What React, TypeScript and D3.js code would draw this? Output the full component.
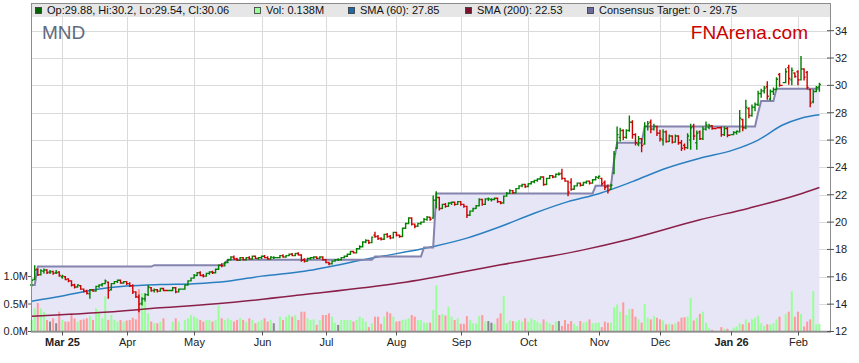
import React, { useRef, useEffect } from 'react';
import * as d3 from 'd3';

// each bar: open, high, low, close, volume (millions)
type Bar = [number, number, number, number, number];

const feb25: Bar[] = [
  [15.40, 15.90, 15.30, 15.75, 0.21], [15.80, 16.85, 15.75, 16.50, 0.42], [16.55, 16.60, 16.05, 16.15, 0.52],
  [16.15, 16.55, 16.10, 16.45, 0.42], [16.40, 16.60, 16.25, 16.50, 0.36], [16.50, 16.55, 16.20, 16.30, 0.21],
  [16.35, 16.50, 16.20, 16.35, 0.18], [16.40, 16.45, 16.15, 16.25, 0.24], [16.30, 16.50, 16.20, 16.30, 0.15],
  [16.35, 16.40, 16.00, 16.10, 0.36],
];
const mar25: Bar[] = [
  [16.00, 16.15, 15.85, 16.05, 0.21], [16.00, 16.05, 15.75, 15.80, 0.18], [15.85, 15.90, 15.60, 15.70, 0.18],
  [15.70, 15.75, 15.30, 15.40, 0.33], [15.40, 15.50, 15.15, 15.25, 0.24], [15.25, 15.45, 15.20, 15.40, 0.18],
  [15.35, 15.40, 15.05, 15.10, 0.21], [15.10, 15.15, 14.85, 14.95, 0.22], [14.95, 15.05, 14.70, 14.80, 0.24],
  [14.75, 15.10, 14.40, 15.05, 0.28], [15.05, 15.10, 14.90, 14.95, 0.21], [14.95, 15.35, 14.90, 15.30, 0.42],
  [15.30, 15.45, 15.20, 15.40, 0.36], [15.40, 15.55, 15.30, 15.50, 0.24], [15.50, 15.80, 15.45, 15.70, 0.64],
  [15.60, 15.65, 14.40, 15.00, 0.21], [15.05, 15.55, 15.00, 15.50, 0.30], [15.50, 15.70, 15.45, 15.65, 0.21],
  [15.65, 15.80, 15.55, 15.75, 0.18], [15.75, 15.80, 15.50, 15.55, 0.21], [15.55, 15.70, 15.50, 15.65, 0.18],
];
const apr25: Bar[] = [
  [15.65, 15.70, 15.40, 15.50, 0.20], [15.50, 15.60, 15.25, 15.35, 0.21], [15.35, 15.45, 14.75, 14.90, 0.25],
  [14.90, 14.95, 14.45, 14.55, 0.22], [14.50, 14.70, 13.40, 14.00, 0.77], [14.05, 14.50, 13.90, 14.40, 0.70],
  [14.40, 14.80, 14.20, 14.70, 0.55], [14.70, 15.40, 14.60, 15.25, 0.33], [15.20, 15.25, 14.90, 15.00, 0.18],
  [15.00, 15.15, 14.85, 15.05, 0.15], [15.05, 15.10, 14.85, 14.95, 0.15], [14.95, 15.20, 14.90, 15.15, 0.18],
  [15.15, 15.20, 14.95, 15.00, 0.24], [15.00, 15.25, 14.95, 15.20, 0.18], [15.20, 15.25, 14.80, 14.90, 0.24],
  [14.90, 15.15, 14.85, 15.10, 0.18], [15.10, 15.45, 15.05, 15.40, 0.21], [15.40, 15.75, 15.35, 15.70, 0.24],
  [15.70, 15.95, 15.65, 15.90, 0.30],
];
const may25: Bar[] = [
  [15.90, 16.20, 15.85, 16.10, 0.27], [16.10, 16.35, 16.05, 16.30, 0.24], [16.30, 16.40, 16.05, 16.10, 0.21],
  [16.10, 16.20, 15.95, 16.05, 0.18], [16.05, 16.30, 16.00, 16.25, 0.21], [16.25, 16.40, 16.15, 16.35, 0.21],
  [16.35, 16.45, 16.20, 16.30, 0.18], [16.30, 16.60, 16.25, 16.55, 0.21], [16.55, 16.90, 16.50, 16.85, 0.47],
  [16.85, 17.00, 16.70, 16.80, 0.24], [16.80, 17.10, 16.75, 17.05, 0.21], [17.05, 17.30, 17.00, 17.25, 0.24],
  [17.25, 17.50, 17.20, 17.45, 0.21], [17.45, 17.55, 17.25, 17.30, 0.18], [17.30, 17.40, 17.15, 17.20, 0.21],
  [17.20, 17.45, 17.15, 17.40, 0.24], [17.40, 17.45, 17.20, 17.25, 0.21], [17.25, 17.45, 17.20, 17.40, 0.18],
  [17.40, 17.50, 17.25, 17.30, 0.24], [17.30, 17.55, 17.25, 17.50, 0.21], [17.50, 17.55, 17.30, 17.35, 0.15],
  [17.35, 17.45, 17.25, 17.40, 0.18],
];
const jun25: Bar[] = [
  [17.40, 17.55, 17.30, 17.50, 0.21], [17.50, 17.60, 17.35, 17.40, 0.24], [17.40, 17.50, 17.25, 17.30, 0.18],
  [17.30, 17.50, 17.25, 17.45, 0.21], [17.40, 17.50, 17.30, 17.40, 0.15], [17.40, 17.60, 17.35, 17.55, 0.27],
  [17.55, 17.65, 17.40, 17.45, 0.21], [17.45, 17.60, 17.40, 17.55, 0.27], [17.55, 17.70, 17.50, 17.65, 0.30],
  [17.65, 17.75, 17.50, 17.55, 0.27], [17.55, 17.75, 17.50, 17.70, 0.30], [17.70, 17.80, 17.55, 17.60, 0.21],
  [17.60, 17.65, 17.10, 17.20, 0.36], [17.25, 17.35, 17.05, 17.15, 0.36], [17.15, 17.40, 17.10, 17.35, 0.24],
  [17.35, 17.45, 17.25, 17.40, 0.21], [17.40, 17.50, 17.30, 17.45, 0.22], [17.45, 17.50, 17.30, 17.35, 0.12],
  [17.35, 17.50, 17.30, 17.45, 0.21], [17.45, 17.50, 17.20, 17.25, 0.30],
];
const jul25: Bar[] = [
  [17.25, 17.30, 17.00, 17.05, 0.30], [17.05, 17.10, 16.85, 16.95, 0.33], [16.95, 17.20, 16.90, 17.15, 0.27],
  [17.15, 17.30, 17.10, 17.25, 0.16], [17.25, 17.35, 17.15, 17.25, 0.12], [17.25, 17.45, 17.20, 17.40, 0.21],
  [17.40, 17.55, 17.35, 17.50, 0.21], [17.50, 17.70, 17.45, 17.65, 0.21], [17.65, 17.90, 17.60, 17.85, 0.21],
  [17.85, 17.90, 17.70, 17.75, 0.18], [17.75, 18.10, 17.70, 18.05, 0.21], [18.05, 18.30, 18.00, 18.20, 0.27],
  [18.20, 18.60, 18.15, 18.55, 0.24], [18.55, 18.75, 18.45, 18.65, 0.18], [18.65, 18.70, 18.40, 18.50, 0.08],
  [18.50, 18.95, 18.45, 18.90, 0.15], [19.05, 19.30, 18.85, 18.95, 0.27], [18.95, 19.05, 18.70, 18.80, 0.27],
  [18.80, 18.90, 18.65, 18.75, 0.14], [18.75, 19.15, 18.70, 19.10, 0.27], [19.10, 19.20, 18.85, 18.95, 0.36],
  [18.95, 19.05, 18.75, 18.85, 0.33], [18.85, 19.30, 18.80, 19.25, 0.27],
];
const aug25: Bar[] = [
  [19.25, 19.30, 18.95, 19.05, 0.18], [19.05, 19.10, 18.85, 18.95, 0.19], [18.95, 19.60, 18.90, 19.55, 0.21],
  [19.55, 19.95, 19.50, 19.90, 0.22], [19.90, 20.35, 19.85, 20.30, 0.24], [20.30, 20.35, 19.75, 19.85, 0.30],
  [19.85, 19.90, 19.55, 19.70, 0.27], [19.70, 19.95, 19.65, 19.90, 0.21], [19.90, 20.05, 19.80, 20.00, 0.21],
  [20.00, 20.30, 19.95, 20.20, 0.16], [20.20, 20.45, 20.10, 20.35, 0.16], [20.35, 20.40, 20.10, 20.20, 0.16],
  [20.30, 21.95, 20.25, 21.60, 0.39], [21.60, 22.25, 21.00, 21.80, 0.84], [21.80, 21.85, 20.85, 21.00, 0.30],
  [21.00, 21.35, 20.95, 21.30, 0.32], [21.30, 21.40, 21.05, 21.15, 0.29], [21.15, 21.45, 21.10, 21.40, 0.45],
  [21.40, 21.50, 21.25, 21.45, 0.27], [21.45, 21.50, 21.20, 21.30, 0.21], [21.30, 21.55, 21.25, 21.50, 0.24],
];
const sep25: Bar[] = [
  [21.50, 21.55, 21.20, 21.30, 0.14], [21.30, 21.35, 21.05, 21.15, 0.14], [21.15, 21.20, 20.30, 20.50, 0.28],
  [20.50, 20.85, 20.45, 20.80, 0.21], [20.80, 21.05, 20.75, 21.00, 0.15], [21.00, 21.25, 20.95, 21.20, 0.15],
  [21.20, 21.75, 21.15, 21.65, 0.28], [21.65, 21.70, 21.20, 21.30, 0.30], [21.30, 21.75, 21.25, 21.70, 0.18],
  [21.70, 21.80, 21.55, 21.70, 0.19], [21.65, 21.75, 21.50, 21.65, 0.16], [21.65, 21.80, 21.60, 21.75, 0.14],
  [21.75, 21.80, 21.40, 21.50, 0.24], [21.50, 21.55, 21.30, 21.40, 0.33], [21.40, 21.95, 21.35, 21.90, 0.65],
  [21.90, 22.20, 21.85, 22.10, 0.15], [22.10, 22.40, 22.05, 22.30, 0.20], [22.30, 22.35, 22.05, 22.15, 0.19],
  [22.15, 22.50, 22.10, 22.45, 0.18], [22.45, 22.70, 22.40, 22.65, 0.21], [22.65, 22.80, 22.55, 22.75, 0.18],
  [22.75, 22.80, 22.50, 22.60, 0.24],
];
const oct25: Bar[] = [
  [22.60, 22.85, 22.55, 22.80, 0.18], [22.80, 23.00, 22.75, 22.95, 0.24], [22.95, 23.10, 22.85, 23.05, 0.21],
  [23.05, 23.20, 22.95, 23.15, 0.18], [23.15, 23.35, 23.10, 23.30, 0.15], [23.30, 23.35, 22.65, 22.75, 0.22],
  [22.75, 23.25, 22.70, 23.20, 0.18], [23.20, 23.45, 23.15, 23.40, 0.15], [23.40, 23.45, 23.20, 23.30, 0.12],
  [23.30, 23.55, 23.25, 23.50, 0.18], [23.50, 23.65, 23.40, 23.50, 0.19], [23.55, 23.90, 23.10, 23.20, 0.10],
  [23.20, 23.25, 22.95, 23.00, 0.21], [23.00, 23.05, 21.90, 22.20, 0.14], [22.90, 23.20, 22.30, 22.40, 0.19],
  [22.40, 22.70, 22.35, 22.65, 0.14], [22.65, 22.90, 22.60, 22.85, 0.10], [22.85, 22.90, 22.60, 22.70, 0.19],
  [22.70, 22.95, 22.65, 22.90, 0.16], [22.90, 23.05, 22.80, 23.00, 0.18], [23.00, 23.05, 22.75, 22.85, 0.22],
  [22.85, 23.15, 22.80, 23.10, 0.15], [23.10, 23.35, 23.05, 23.30, 0.16],
];
const nov25: Bar[] = [
  [23.25, 23.40, 23.15, 23.35, 0.16], [23.20, 23.25, 22.65, 22.80, 0.08], [22.90, 23.05, 22.35, 22.55, 0.18],
  [22.60, 22.75, 22.10, 22.30, 0.16], [22.40, 22.80, 22.35, 22.70, 0.16], [23.60, 25.20, 23.50, 25.00, 0.44],
  [25.40, 27.00, 25.35, 26.40, 0.49], [26.20, 26.90, 25.90, 26.70, 0.36], [26.70, 26.80, 26.00, 26.20, 0.53],
  [26.20, 26.80, 26.10, 26.70, 0.30], [26.70, 27.80, 26.60, 27.30, 0.41], [27.30, 27.45, 26.10, 26.40, 0.41],
  [26.40, 26.50, 25.60, 25.80, 0.27], [25.70, 26.30, 25.55, 26.10, 0.22], [26.10, 26.15, 25.10, 25.60, 0.16],
  [25.70, 27.30, 25.65, 27.00, 0.50], [27.00, 27.40, 26.70, 27.20, 0.25], [27.30, 27.50, 26.50, 26.80, 0.22],
  [26.80, 27.20, 26.70, 27.00, 0.28], [27.00, 27.05, 26.30, 26.50, 0.25],
];
const dec25: Bar[] = [
  [26.50, 26.75, 25.90, 26.10, 0.22], [26.00, 26.80, 25.60, 26.60, 0.20], [26.60, 26.70, 25.80, 25.90, 0.13],
  [25.90, 26.40, 25.85, 26.30, 0.14], [26.30, 26.35, 25.75, 25.85, 0.13], [25.85, 26.40, 25.80, 26.30, 0.15],
  [26.30, 26.35, 25.65, 25.80, 0.18], [25.80, 26.00, 25.20, 25.40, 0.25], [25.60, 25.75, 25.25, 25.45, 0.26],
  [25.45, 26.50, 25.35, 26.30, 0.27], [26.00, 27.20, 25.30, 26.90, 0.61], [27.00, 27.20, 26.00, 26.30, 0.20],
  [25.80, 26.70, 25.30, 26.50, 0.25], [26.60, 26.70, 26.00, 26.10, 0.32], [26.10, 27.00, 26.00, 26.80, 0.36],
  [26.80, 27.35, 26.70, 27.10, 0.16], [26.95, 27.20, 26.80, 27.05, 0.06], [27.05, 27.10, 26.75, 26.85, 0.03],
  [26.90, 27.00, 26.25, 26.40, 0.08], [26.40, 27.00, 26.30, 26.85, 0.05], [26.85, 26.95, 26.20, 26.35, 0.05],
];
const jan26: Bar[] = [
  [26.40, 26.65, 26.35, 26.55, 0.07], [26.55, 26.70, 26.40, 26.65, 0.09], [26.60, 28.20, 26.55, 27.60, 0.15],
  [27.50, 27.55, 26.65, 26.90, 0.13], [26.90, 28.95, 26.80, 28.40, 0.22], [28.30, 28.40, 27.60, 27.80, 0.16],
  [27.80, 28.60, 27.70, 28.40, 0.22], [28.40, 28.75, 28.10, 28.60, 0.25], [28.60, 29.60, 28.50, 29.40, 0.29],
  [29.40, 29.75, 29.10, 29.60, 0.15], [29.60, 29.95, 29.40, 29.80, 0.10], [29.90, 30.30, 28.95, 29.20, 0.13],
  [29.00, 29.70, 28.90, 29.55, 0.13], [29.55, 29.85, 29.30, 29.70, 0.15], [29.70, 30.60, 29.65, 30.45, 0.22],
  [30.80, 30.90, 29.90, 30.00, 0.27], [30.20, 31.25, 30.15, 31.00, 0.32], [31.30, 31.50, 30.05, 30.50, 0.36],
  [30.40, 31.30, 30.00, 31.10, 0.73], [30.90, 30.95, 30.55, 30.65, 0.27],
];
const feb26: Bar[] = [
  [31.00, 31.10, 30.00, 30.40, 0.36], [30.40, 32.15, 30.35, 31.20, 0.32], [31.20, 31.25, 30.35, 30.60, 0.09],
  [30.95, 31.05, 29.70, 29.85, 0.18], [29.70, 29.75, 28.40, 28.70, 0.22], [28.80, 29.70, 28.70, 29.55, 0.73],
  [29.55, 29.95, 29.50, 29.85, 0.13], [29.88, 30.20, 29.54, 30.06, 0.138],
];
const months = [feb25, mar25, apr25, may25, jun25, jul25, aug25, sep25, oct25, nov25, dec25, jan26, feb26];

// ASX closed days (kept as empty slots on the axis)
const holidays = ['2025-04-18', '2025-04-21', '2025-04-25', '2025-06-09', '2025-12-25', '2025-12-26', '2026-01-01', '2026-01-26'];

const monthLabels = ['Mar 25', 'Apr', 'May', 'Jun', 'Jul', 'Aug', 'Sep', 'Oct', 'Nov', 'Dec', 'Jan 26', 'Feb'];
const priceTicks = [12, 14, 16, 18, 20, 22, 24, 26, 28, 30, 32, 34];
const volumeTicks = [0, 0.5, 1.0];

const consensusDates = ['2025-02-17', '2025-02-19', '2025-04-14', '2025-05-15', '2025-05-16', '2025-07-23', '2025-08-14',
  '2025-08-20', '2025-10-31', '2025-11-10', '2025-11-11', '2025-11-24', '2026-01-14', '2026-01-15', '2026-01-22'];
const consensusValues = [15.4, 16.75, 16.85, 17.0, 17.25, 17.48, 18.15, 22.1, 22.65, 24.5, 25.8, 27.0, 28.0, 28.85, 29.75];

const sma60Dates = ['2025-02-17', '2025-03-03', '2025-03-18', '2025-04-01', '2025-04-16', '2025-05-01', '2025-05-16',
  '2025-06-02', '2025-06-20', '2025-07-22', '2025-08-19', '2025-09-03', '2025-09-18', '2025-10-03', '2025-10-20',
  '2025-11-03', '2025-11-18', '2025-12-03', '2025-12-18', '2026-01-02', '2026-01-14', '2026-01-26', '2026-02-03', '2026-02-11'];
const sma60Values = [14.22, 14.6, 15.07, 15.32, 15.44, 15.5, 15.68, 16.05, 16.41, 17.37, 18.21, 18.83, 19.68, 20.65, 21.5,
  22.08, 22.96, 23.94, 24.67, 25.28, 26.0, 27.1, 27.6, 27.85];

const sma200Dates = ['2025-02-17', '2025-03-18', '2025-04-16', '2025-05-16', '2025-06-20', '2025-08-04', '2025-09-18',
  '2025-10-27', '2025-11-17', '2025-12-18', '2026-01-09', '2026-02-02', '2026-02-11'];
const sma200Values = [13.12, 13.37, 13.73, 14.1, 14.7, 15.54, 16.88, 17.97, 18.75, 20.17, 21.02, 22.0, 22.53];

const FONT = '"Liberation Sans", Arial, sans-serif';

const App = () => {
  const svgRef = useRef<SVGSVGElement>(null);

  useEffect(() => {
    const left = 31, right = 831, top = 3, legendBottom = 17, bottom = 331.5;
    const svg = d3.select(svgRef.current);
    svg.selectAll('*').remove();

    const fmt = d3.timeFormat('%Y-%m-%d');
    const slotDates = d3.timeDay.range(new Date(2025, 1, 17), new Date(2026, 1, 12))
      .filter(d => d.getDay() > 0 && d.getDay() < 6);
    const slotOf = new Map(slotDates.map((d, i) => [fmt(d), i] as [string, number]));
    const tradingSlots = slotDates.map((_, i) => i).filter(i => !holidays.includes(fmt(slotDates[i])));
    const bars = months.flat().map((b, i) => ({ slot: tradingSlots[i], o: b[0], h: b[1], l: b[2], c: b[3], v: b[4] }));
    const tickSlots = slotDates.map((_, i) => i)
      .filter(i => i > 0 && slotDates[i].getMonth() !== slotDates[i - 1].getMonth());

    const x = d3.scaleLinear().domain([0, slotDates.length - 1]).range([31.65, 819.4]);
    const y = d3.scaleLinear().domain([12, 35]).range([bottom, legendBottom]);
    const yVol = d3.scaleLinear().domain([0, 1]).range([bottom, 276.5]);

    // grid
    const grid = svg.append('g').attr('stroke', '#dadada').attr('stroke-width', 1);
    priceTicks.filter(t => t > 12).forEach(t => {
      grid.append('line').attr('x1', left).attr('x2', right).attr('y1', Math.round(y(t)) + 0.5).attr('y2', Math.round(y(t)) + 0.5);
    });
    tickSlots.forEach(s => {
      grid.append('line').attr('x1', Math.round(x(s)) + 0.5).attr('x2', Math.round(x(s)) + 0.5).attr('y1', legendBottom).attr('y2', bottom);
    });

    // consensus target steps
    const cPts: [number, number][] = [];
    consensusDates.forEach((d, k) => {
      const s = slotOf.get(d) as number;
      if (k > 0) cPts.push([s - 1, consensusValues[k - 1]]);
      cPts.push([s, consensusValues[k]]);
    });
    cPts.push([bars[bars.length - 1].slot, consensusValues[consensusValues.length - 1]]);

    svg.append('path')
      .attr('d', d3.area<[number, number]>().x(d => Math.max(left, x(d[0]) - (d[0] === 0 ? 1 : 0))).y0(bottom).y1(d => y(d[1]))(cPts) as string)
      .attr('fill', '#e6e6f6');

    // volume
    svg.append('g').selectAll('rect').data(bars).enter().append('rect')
      .attr('x', d => x(d.slot) - 1)
      .attr('width', 2)
      .attr('y', d => yVol(d.v))
      .attr('height', d => bottom - yVol(d.v))
      .attr('fill', d => (d.c > d.o ? '#99ff99' : d.c < d.o ? '#ff9a9a' : '#888888'));

    // moving averages
    const smaLine = d3.line<[number, number]>().x(d => x(d[0])).y(d => y(d[1])).curve(d3.curveMonotoneX);
    const sma60 = sma60Dates.map((d, i) => [slotOf.get(d) as number, sma60Values[i]] as [number, number]);
    const sma200 = sma200Dates.map((d, i) => [slotOf.get(d) as number, sma200Values[i]] as [number, number]);
    svg.append('path').attr('d', smaLine(sma200) as string).attr('fill', 'none').attr('stroke', '#8a2048').attr('stroke-width', 1.5);
    svg.append('path').attr('d', smaLine(sma60) as string).attr('fill', 'none').attr('stroke', '#2a7fc0').attr('stroke-width', 1.5);

    svg.append('path')
      .attr('d', d3.line<[number, number]>().x(d => x(d[0])).y(d => y(d[1]))(cPts) as string)
      .attr('fill', 'none').attr('stroke', '#8484ae').attr('stroke-width', 2);

    // OHLC bars
    const ohlc = svg.append('g').attr('stroke-width', 1.4).attr('fill', 'none');
    bars.forEach((b, i) => {
      const xc = x(b.slot);
      const xp = i > 0 ? x(bars[i - 1].slot) : xc - 3.065;
      const xn = i < bars.length - 1 ? x(bars[i + 1].slot) : xc + 3.065;
      const col = b.c >= b.o ? '#008000' : '#cc0000';
      ohlc.append('path')
        .attr('stroke', col)
        .attr('d', `M${xc},${y(b.h)}V${y(b.l)}M${xc - (xc - xp) / 2},${y(b.o)}H${xc}M${xc},${y(b.c)}H${xc + (xn - xc) / 2}`);
    });

    // legend bar + frame
    svg.append('rect').attr('x', left).attr('y', top).attr('width', right - left).attr('height', legendBottom - top).attr('fill', '#e6e6e6');
    svg.append('rect').attr('x', left + 0.5).attr('y', top + 0.5).attr('width', right - left - 1).attr('height', bottom - top)
      .attr('fill', 'none').attr('stroke', '#8c8c8c').attr('stroke-width', 1);
    svg.append('line').attr('x1', left).attr('x2', right).attr('y1', bottom).attr('y2', bottom).attr('stroke', '#8c8c8c').attr('stroke-width', 1.5);

    const last = bars[bars.length - 1];
    const legend = [
      { x: 35, color: '#006400', text: `Op:${last.o}, Hi:${last.h}, Lo:${last.l}, Cl:${last.c}` },
      { x: 254, color: '#99ff99', text: `Vol: ${last.v}M` },
      { x: 348, color: '#1f6aa5', text: `SMA (60): ${sma60Values[sma60Values.length - 1]}` },
      { x: 465, color: '#7b1230', text: `SMA (200): ${sma200Values[sma200Values.length - 1]}` },
      { x: 587, color: '#6b6b9b', text: `Consensus Target: 0 - ${consensusValues[consensusValues.length - 1]}` },
    ];
    legend.forEach(item => {
      svg.append('rect').attr('x', item.x + 0.5).attr('y', 7.5).attr('width', 6).attr('height', 6)
        .attr('fill', item.color).attr('stroke', '#333').attr('stroke-width', 0.8);
      svg.append('text').attr('x', item.x + 12).attr('y', 14).attr('font-family', FONT).attr('font-size', 11)
        .attr('fill', '#111').text(item.text);
    });

    svg.append('text').attr('x', 42).attr('y', 39).attr('font-family', FONT).attr('font-size', 19).attr('fill', '#5e6a7e').text('MND');
    svg.append('text').attr('x', 808).attr('y', 39).attr('text-anchor', 'end').attr('font-family', FONT).attr('font-size', 19)
      .attr('fill', '#cc0000').text('FNArena.com');

    // right price axis
    const ra = svg.append('g').attr('font-family', FONT).attr('font-size', 11).attr('fill', '#222');
    priceTicks.forEach(t => {
      ra.append('line').attr('x1', right - 4).attr('x2', right + 3).attr('y1', y(t)).attr('y2', y(t)).attr('stroke', '#555');
      ra.append('text').attr('x', right + 4).attr('y', y(t)).attr('dy', '0.35em').text(String(t));
    });

    // left volume axis
    const la = svg.append('g').attr('font-family', FONT).attr('font-size', 11).attr('fill', '#222');
    volumeTicks.forEach(t => {
      la.append('line').attr('x1', left - 3).attr('x2', left).attr('y1', yVol(t)).attr('y2', yVol(t)).attr('stroke', '#555');
      la.append('text').attr('x', left - 3).attr('y', yVol(t)).attr('dy', '0.35em').attr('text-anchor', 'end')
        .text(`${d3.format('.1f')(t)}M`);
    });

    // bottom month axis
    const ba = svg.append('g').attr('font-family', FONT).attr('font-size', 11).attr('fill', '#222');
    tickSlots.forEach((s, i) => {
      const xt = Math.round(x(s)) + 0.5;
      ba.append('line').attr('x1', xt).attr('x2', xt).attr('y1', bottom).attr('y2', bottom + 4).attr('stroke', '#555');
      ba.append('text').attr('x', xt).attr('y', 346).attr('text-anchor', 'middle')
        .attr('font-weight', monthLabels[i].includes(' ') ? 'bold' : 'normal').text(monthLabels[i]);
    });
  }, []);

  return (
    <svg ref={svgRef} width={859} height={363}
      style={{ position: 'absolute', left: 0, top: 0, background: '#fff' }} />
  );
};

export default App;
